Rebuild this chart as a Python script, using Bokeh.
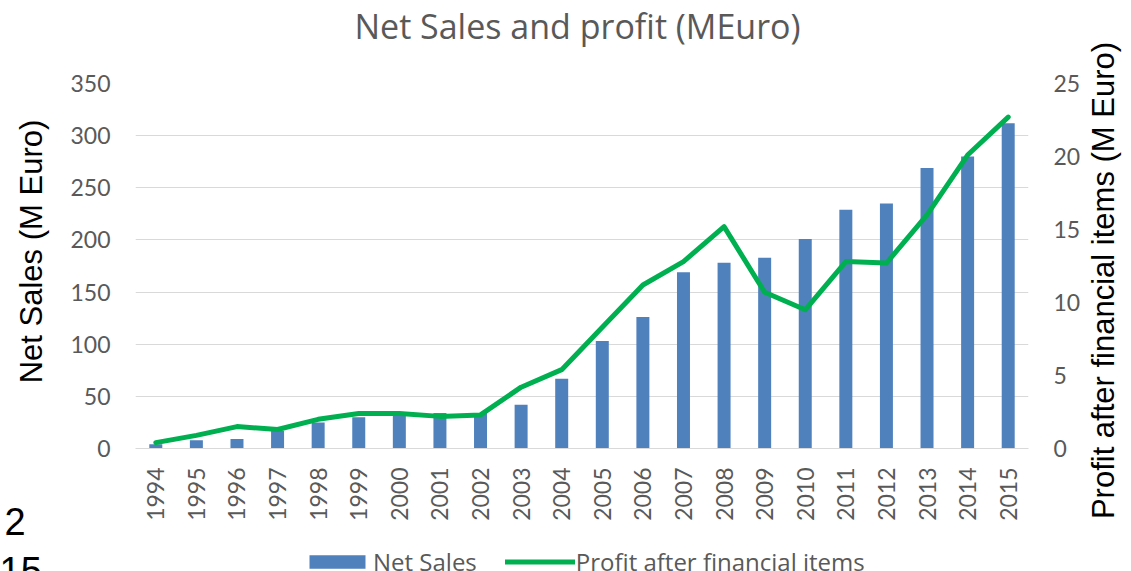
import math
from bokeh.plotting import figure
from bokeh.models import Range1d, LinearAxis, FactorRange, Label, Legend, LegendItem, FixedTicker
from bokeh.embed import file_html
from bokeh.resources import INLINE

years = [str(y) for y in range(1994, 2016)]
net_sales = [4, 8, 9, 17, 25, 30, 32, 34, 34, 42, 67, 103, 126, 169, 178, 183, 201, 229, 235, 269, 280, 312]
profit = [0.4, 0.9, 1.5, 1.3, 2.0, 2.4, 2.4, 2.2, 2.3, 4.2, 5.4, 8.3, 11.2, 12.8, 15.2, 10.7, 9.5, 12.8, 12.7, 16.0, 20.1, 22.7]
left_ticks = [0, 50, 100, 150, 200, 250, 300, 350]
right_ticks = [0, 5, 10, 15, 20, 25]

title_text = "Net Sales and profit (MEuro)"
left_title = "Net Sales (M Euro)"
right_title = "Profit after financial items (M Euro)"
legend_labels = ["Net Sales", "Profit after financial items"]
stray_top = "2"
stray_bottom = "15"

FL, FT, FR, FB = 135, 83, 1028, 448
W, H = 1131, 571
BAR_COLOR = "#4F81BD"
LINE_COLOR = "#00B050"

p = figure(width=W, height=H, x_range=FactorRange(*years), y_range=Range1d(0, 350),
           output_backend="svg", toolbar_location=None, title=None,
           min_border_left=FL, min_border_right=W - FR, min_border_top=FT, min_border_bottom=H - FB)
p.outline_line_color = None
p.background_fill_color = "white"
p.border_fill_color = "white"
p.extra_y_ranges = {"profit": Range1d(0, 25)}

bars = p.vbar(x=years, top=net_sales, width=0.32, fill_color=BAR_COLOR, line_color=None)
line = p.line(x=years, y=profit, y_range_name="profit", line_color=LINE_COLOR, line_width=5,
              line_join="round", line_cap="round")

TICK_FONT = "Lato"
TICK_SIZE = "23px"
TICK_COLOR = "#595959"

xa = p.xaxis[0]
xa.major_tick_line_color = None
xa.minor_tick_line_color = None
xa.axis_line_color = "#D9D9D9"
xa.major_label_orientation = math.pi / 2
xa.major_label_standoff = 13
xa.major_label_text_font = TICK_FONT
xa.major_label_text_font_size = TICK_SIZE
xa.major_label_text_color = TICK_COLOR

ya = p.yaxis[0]
ya.ticker = FixedTicker(ticks=left_ticks)
ya.axis_line_color = None
ya.major_tick_line_color = None
ya.minor_tick_line_color = None
ya.major_label_standoff = 19
ya.major_label_text_font = TICK_FONT
ya.major_label_text_font_size = TICK_SIZE
ya.major_label_text_color = TICK_COLOR

ra = LinearAxis(y_range_name="profit", ticker=FixedTicker(ticks=right_ticks))
ra.axis_line_color = None
ra.major_tick_line_color = None
ra.minor_tick_line_color = None
ra.major_label_standoff = 19
ra.major_label_text_font = TICK_FONT
ra.major_label_text_font_size = TICK_SIZE
ra.major_label_text_color = TICK_COLOR
p.add_layout(ra, "right")

p.xgrid.grid_line_color = None
p.ygrid.grid_line_color = "#D9D9D9"
p.ygrid.ticker = FixedTicker(ticks=left_ticks)

# transparent overlay canvas (same size, stacked on top) for the free-floating texts
# and the legend; its data coordinates are the canvas pixel coordinates
ov = figure(width=W, height=H, x_range=Range1d(0, W), y_range=Range1d(H, 0),
            x_axis_type=None, y_axis_type=None, min_border=0, title=None,
            output_backend="svg", toolbar_location=None,
            styles={"position": "absolute", "top": "0px", "left": "0px"})
ov.outline_line_color = None
ov.background_fill_color = None
ov.border_fill_color = None

# hidden stand-ins that carry the series styles into the legend
idx = list(range(len(years)))
bars_key = ov.vbar(x=idx, top=net_sales, width=0.32, fill_color=BAR_COLOR, line_color=None,
                   visible=False)
line_key = ov.line(x=idx, y=profit, line_color=LINE_COLOR, line_width=5, line_cap="round",
                   visible=False)

legend = Legend(items=[LegendItem(label=legend_labels[0], renderers=[bars_key]),
                       LegendItem(label=legend_labels[1], renderers=[line_key])],
                orientation="horizontal", location=(302, -7), padding=0, margin=0,
                spacing=28, glyph_width=70, glyph_height=17, label_standoff=1,
                border_line_color=None, background_fill_alpha=0,
                label_text_font="Open Sans", label_text_font_size="24px",
                label_text_color="#595959")
ov.add_layout(legend)


def lab(text, cx, cy, size, font="Liberation Sans", color="black", angle=0.0,
        align="center", baseline="middle"):
    ov.add_layout(Label(x=cx, y=cy, text=text, angle=angle, text_font=font,
                        text_font_size=size, text_color=color,
                        text_align=align, text_baseline=baseline))


lab(title_text, 577, 25, "34px", font="Open Sans", color="#595959", baseline="alphabetic")
lab(left_title, 31, 251, "31px", angle=math.pi / 2)
lab(right_title, 1103, 280, "31px", angle=math.pi / 2)
lab(stray_top, 4, 521, "38px", align="left", baseline="alphabetic")
lab(stray_bottom, -1, 570, "38px", align="left", baseline="alphabetic")

open("out.html", "w").write(file_html([p, ov], INLINE))
